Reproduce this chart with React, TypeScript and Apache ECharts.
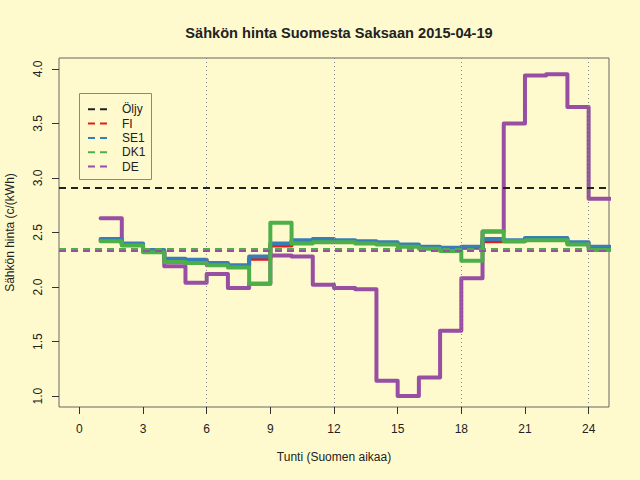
import React, { useEffect, useRef } from "react";
import * as echarts from "echarts";

const HOURS = [1, 2, 3, 4, 5, 6, 7, 8, 9, 10, 11, 12, 13, 14, 15, 16, 17, 18, 19, 20, 21, 22, 23, 24];
const FI = [2.43, 2.39, 2.33, 2.25, 2.24, 2.21, 2.19, 2.26, 2.38, 2.42, 2.42, 2.42, 2.41, 2.40, 2.38, 2.36, 2.35, 2.36, 2.42, 2.42, 2.44, 2.44, 2.40, 2.36];
const SE1 = [2.44, 2.40, 2.34, 2.26, 2.25, 2.22, 2.20, 2.28, 2.40, 2.43, 2.44, 2.43, 2.42, 2.41, 2.39, 2.37, 2.36, 2.37, 2.44, 2.43, 2.45, 2.45, 2.41, 2.37];
const DK1 = [2.42, 2.38, 2.32, 2.23, 2.22, 2.20, 2.18, 2.03, 2.59, 2.40, 2.41, 2.41, 2.40, 2.39, 2.37, 2.35, 2.33, 2.24, 2.51, 2.42, 2.43, 2.43, 2.39, 2.34];
const DE = [2.63, 2.39, 2.33, 2.19, 2.04, 2.12, 1.99, 2.03, 2.29, 2.28, 2.02, 1.99, 1.98, 1.14, 1.00, 1.17, 1.60, 2.08, 2.51, 3.50, 3.94, 3.95, 3.65, 2.81];

const LEGEND_NAMES = ["Öljy", "FI", "SE1", "DK1", "DE"];
const LEGEND_COLORS = ["#222222", "#E41A1C", "#377EB8", "#4DAF4A", "#984EA3"];
const AVERAGES = [2.91, 2.35, 2.355, 2.345, 2.33]; // Öljy, FI, SE1, DK1, DE

const X_TICKS = [0, 3, 6, 9, 12, 15, 18, 21, 24];
const Y_TICKS = [1.0, 1.5, 2.0, 2.5, 3.0, 3.5, 4.0];
const V_LINES = [6, 12, 18, 24];

const FONT = "Liberation Sans, Arial, Helvetica, sans-serif";
const TEXT = "#222222";

function stepData(vals: number[]) {
  const d = HOURS.map((h, i) => [h, vals[i]]);
  d.push([HOURS[HOURS.length - 1] + 1, vals[vals.length - 1]]);
  return d;
}

export default function App() {
  const ref = useRef<HTMLDivElement>(null);
  useEffect(() => {
    if (!ref.current) return;
    const chart = echarts.init(ref.current, undefined, { renderer: "svg" });

    const seriesDefs = [
      { name: "DE", vals: DE, color: LEGEND_COLORS[4] },
      { name: "FI", vals: FI, color: LEGEND_COLORS[1] },
      { name: "SE1", vals: SE1, color: LEGEND_COLORS[2] },
      { name: "DK1", vals: DK1, color: LEGEND_COLORS[3] },
    ];

    const series: any[] = seriesDefs.map((s) => ({
      type: "line",
      name: s.name,
      step: "end",
      data: stepData(s.vals),
      symbol: "none",
      silent: true,
      lineStyle: { color: s.color, width: 4, cap: "round", join: "round" },
    }));

    series[0].markLine = {
      silent: true,
      symbol: ["none", "none"],
      label: { show: false },
      animation: false,
      data: [
        ...V_LINES.map((v) => ({
          xAxis: v,
          lineStyle: { color: "#888888", width: 1, type: [1, 3] },
        })),
        ...AVERAGES.map((v, i) => ({
          yAxis: v,
          lineStyle: { color: LEGEND_COLORS[i], width: 2, type: [7, 5] },
        })),
      ],
    };

    const legendX = 79.5;
    const legendY = 93.5;
    const rowH = 14.3;
    const legendChildren: any[] = [
      {
        type: "rect",
        shape: { x: legendX, y: legendY, width: 72, height: 86 },
        style: { fill: "none", stroke: "#888888", lineWidth: 1 },
      },
    ];
    LEGEND_NAMES.forEach((n, i) => {
      const y = 109.3 + i * rowH;
      legendChildren.push({
        type: "line",
        shape: { x1: 88, y1: y, x2: 110, y2: y },
        style: { stroke: LEGEND_COLORS[i], lineWidth: 2, lineDash: [7, 5] },
      });
      legendChildren.push({
        type: "text",
        x: 122,
        y: y,
        style: {
          text: n,
          fill: TEXT,
          font: `12px ${FONT}`,
          textVerticalAlign: "middle",
          verticalAlign: "middle",
        },
      });
    });

    chart.setOption({
      animation: false,
      backgroundColor: "#FFFACD",
      title: {
        text: "Sähkön hinta Suomesta Saksaan 2015-04-19",
        left: 334,
        textAlign: "center",
        top: 20,
        textStyle: { fontSize: 14.6, fontWeight: "bold", color: TEXT, fontFamily: FONT },
      },
      grid: {
        left: 59,
        top: 58,
        width: 550,
        height: 349,
        show: true,
        borderColor: "#666666",
        borderWidth: 1,
        backgroundColor: "transparent",
        containLabel: false,
        outerBoundsMode: "none",
      },
      xAxis: {
        type: "value",
        min: -0.96,
        max: 24.96,
        name: "Tunti (Suomen aikaa)",
        nameLocation: "middle",
        nameGap: 44,
        nameTextStyle: { fontSize: 12, color: TEXT, fontFamily: FONT },
        axisLine: { show: false, onZero: false },
        splitLine: { show: false },
        axisTick: { show: true, customValues: X_TICKS, length: 7, lineStyle: { color: "#333333" } },
        axisLabel: {
          customValues: X_TICKS,
          margin: 16,
          fontSize: 12,
          color: TEXT,
          fontFamily: FONT,
        },
      },
      yAxis: {
        type: "value",
        min: 0.9,
        max: 4.1,
        name: "Sähkön hinta (c/(kWh)",
        nameLocation: "middle",
        nameGap: 43,
        nameTextStyle: { fontSize: 12, color: TEXT, fontFamily: FONT },
        axisLine: { show: false, onZero: false },
        splitLine: { show: false },
        axisTick: { show: true, customValues: Y_TICKS, length: 7, lineStyle: { color: "#333333" } },
        axisLabel: {
          customValues: Y_TICKS,
          rotate: 90,
          margin: 15,
          align: "center",
          verticalAlign: "bottom",
          formatter: (v: number) => v.toFixed(1),
          fontSize: 12,
          color: TEXT,
          fontFamily: FONT,
        },
      },
      graphic: legendChildren,
      series,
    });

    return () => chart.dispose();
  }, []);

  return (
    <div
      ref={ref}
      style={{ position: "fixed", left: 0, top: 0, width: 640, height: 480 }}
    />
  );
}
